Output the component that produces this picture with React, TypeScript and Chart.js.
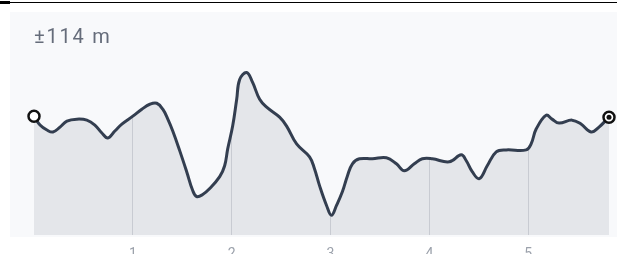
import React, { useEffect, useRef } from "react";
import { Chart, registerables } from "chart.js";

Chart.register(...registerables);

// distance along route (km)
const distKm = [
  0.0, 0.061, 0.131, 0.192, 0.263, 0.333, 0.434, 0.535, 0.616, 0.687, 0.747, 0.818, 0.889,
  1.0, 1.091, 1.172, 1.242, 1.303, 1.354, 1.404, 1.475, 1.545, 1.606, 1.646, 1.707, 1.778,
  1.879, 1.929, 1.96, 2.01, 2.051, 2.081, 2.152, 2.212, 2.283, 2.354, 2.485, 2.556, 2.657,
  2.788, 2.838, 2.889, 2.96, 3.01, 3.061, 3.121, 3.172, 3.222, 3.293, 3.424, 3.566, 3.667,
  3.747, 3.848, 3.929, 4.03, 4.202, 4.323, 4.374, 4.434, 4.505, 4.586, 4.677, 4.778, 4.98,
  5.03, 5.081, 5.182, 5.242, 5.313, 5.444, 5.535, 5.636, 5.717, 5.818,
];

// elevation (m)
const elevM = [
  179.5, 175, 172.5, 171.5, 174, 177, 178, 177.5, 175, 171, 168.5, 172, 175.5,
  179.5, 183, 185.5, 186, 183, 178, 172, 162, 151.5, 142, 139, 140, 143,
  149, 154.5, 163, 174.5, 188, 198, 201.5, 196.5, 188, 184, 179, 174.5, 165.5,
  159, 153, 144.5, 134.5, 129.5, 134.5, 141.5, 149.5, 155.5, 158, 158, 158.5, 155.5,
  152, 155.5, 158, 158, 156.5, 160, 157, 151.5, 148, 154.5, 161.5, 162.5, 162.5,
  165.5, 173, 180, 178, 176, 177.5, 175.5, 171.5, 174, 179,
];

const titleText = "±114 m";
const xTickStep = 1;
const yMin = 119.5;
const yMax = 232;

export default function App() {
  const canvasRef = useRef<HTMLCanvasElement | null>(null);

  useEffect(() => {
    if (!canvasRef.current) return;
    const pts = distKm.map((d, i) => ({ x: d, y: elevM[i] }));
    const last = pts.length - 1;
    const radii = pts.map((_, i) => (i === 0 || i === last ? 5.5 : 0));

    const chart = new Chart(canvasRef.current, {
      type: "line",
      data: {
        datasets: [
          {
            data: [pts[last]],
            order: 0,
            pointRadius: 2.5,
            pointBackgroundColor: "#111111",
            pointBorderWidth: 0,
            borderWidth: 0,
            showLine: false,
            clip: false as any,
          },
          {
            data: pts,
            order: 1,
            borderColor: "#333e50",
            borderWidth: 3,
            tension: 0.4,
            fill: "start",
            backgroundColor: "rgba(30,40,70,0.092)",
            pointRadius: radii,
            pointHoverRadius: radii,
            pointBackgroundColor: "#ffffff",
            pointBorderColor: "#111111",
            pointBorderWidth: 2.5,
            clip: false as any,
          },
          {
            data: pts,
            order: 2,
            borderWidth: 0,
            borderColor: "transparent",
            tension: 0.4,
            fill: "end",
            backgroundColor: "#f8f9fb",
            pointRadius: 0,
          },
        ],
      },
      options: {
        animation: false,
        responsive: false,
        maintainAspectRatio: false,
        events: [],
        layout: { padding: { left: 34, right: 6, top: 12, bottom: 8 } },
        plugins: { legend: { display: false }, tooltip: { enabled: false } },
        scales: {
          x: {
            type: "linear",
            min: distKm[0],
            max: distKm[distKm.length - 1],
            border: { display: false },
            grid: {
              drawTicks: false,
              lineWidth: 1,
              color: (ctx: any) => (ctx.tick && ctx.tick.value === 0 ? "rgba(0,0,0,0)" : "#d9dbe1"),
            },
            ticks: {
              stepSize: xTickStep,
              includeBounds: false,
              padding: 11,
              color: "#9ba1ab",
              font: { family: "Roboto", size: 14 },
              callback: (v: any) => (v === 0 ? "" : String(v)),
            },
          },
          y: {
            display: false,
            min: yMin,
            max: yMax,
          },
        },
      },
    });
    return () => chart.destroy();
  }, []);

  return (
    <div style={{ position: "absolute", left: 0, top: 0, width: 617, height: 254, overflow: "hidden", background: "#ffffff" }}>
      <div style={{ position: "absolute", left: 0, top: 2, width: 617, height: 1, background: "#000" }} />
      <div style={{ position: "absolute", left: 0, top: 1, width: 10, height: 3, background: "#000" }} />
      <div style={{ position: "absolute", left: 10, top: 12, width: 607, height: 225, background: "#f8f9fb" }} />
      <canvas
        ref={canvasRef}
        width={617}
        height={282}
        style={{ position: "absolute", left: 0, top: 0, width: 617, height: 282 }}
      />
      <div
        style={{
          position: "absolute",
          left: 34,
          top: 24,
          fontFamily: "Roboto, sans-serif",
          fontSize: 20,
          letterSpacing: 1.8,
          color: "#656c7a",
          whiteSpace: "nowrap",
        }}
      >
        {titleText}
      </div>
    </div>
  );
}
